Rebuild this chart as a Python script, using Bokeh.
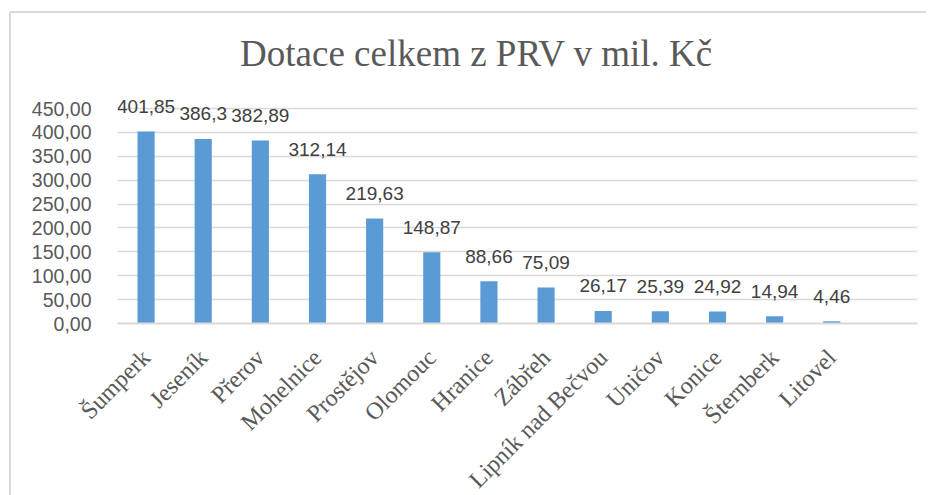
from bokeh.plotting import figure
from bokeh.models import ColumnDataSource, FactorRange, FixedTicker
from bokeh.core.properties import value
from bokeh.embed import file_html
from bokeh.resources import INLINE
import math

# ---- data ----
towns = ["Šumperk", "Jeseník", "Přerov", "Mohelnice", "Prostějov", "Olomouc",
         "Hranice", "Zábřeh", "Lipník nad Bečvou", "Uničov", "Konice",
         "Šternberk", "Litovel"]
subsidies = [401.85, 386.3, 382.89, 312.14, 219.63, 148.87, 88.66, 75.09,
             26.17, 25.39, 24.92, 14.94, 4.46]
extra_slot = [" "]  # empty category at end of axis, as in the reference
y_ticks = [0, 50, 100, 150, 200, 250, 300, 350, 400, 450]
title_text = "Dotace celkem z PRV v mil. Kč"

labels = [str(v).replace(".", ",") for v in subsidies]
src = ColumnDataSource(dict(town=towns, val=subsidies, lab=labels))

FRAME_H = 310          # frame reaches to top of canvas so nothing is clipped
PLOT_H = 215           # height occupied by 0..450
y_end = y_ticks[-1] * FRAME_H / PLOT_H

p = figure(x_range=FactorRange(factors=towns + extra_slot, range_padding=0),
           y_range=(0, y_end),
           frame_width=800, frame_height=FRAME_H,
           min_border_left=106, min_border_right=9,
           min_border_top=0, min_border_bottom=168,
           output_backend="svg", toolbar_location=None, tools="")
p.title.visible = False

p.styles = {"margin-left": "9px", "margin-top": "11px",
            "border-left": "2px solid #d9d9d9", "border-top": "2px solid #d9d9d9"}

p.vbar(x="town", top="val", width=0.3, source=src,
       fill_color="#5B9BD5", line_color=None)

p.text(x="town", y="val", text="lab", source=src,
       text_font=value("Liberation Sans"), text_font_size="19px",
       text_color="#404040", text_align="center", text_baseline="alphabetic",
       y_offset=-25)

# chart title, anchored to the top-left of the plotting frame
p.text(x=[towns[0]], y=[y_end], text=[title_text],
       text_font=value("Liberation Serif"), text_font_size="37px",
       text_color="#595959", text_align="left", text_baseline="alphabetic",
       x_offset=94, y_offset=40)

p.outline_line_color = None
p.background_fill_color = "white"
p.border_fill_color = "white"

p.xgrid.grid_line_color = None
p.ygrid.ticker = FixedTicker(ticks=y_ticks)
p.ygrid.grid_line_color = "#d9d9d9"
p.ygrid.grid_line_width = 1.5

p.yaxis.ticker = FixedTicker(ticks=y_ticks)
p.yaxis.major_label_overrides = {v: f"{v:.2f}".replace(".", ",") for v in y_ticks}
p.yaxis.axis_line_color = None
p.yaxis.major_tick_line_color = None
p.yaxis.minor_tick_line_color = None
p.yaxis.major_label_standoff = 20
p.yaxis.major_label_text_font = "Liberation Sans"
p.yaxis.major_label_text_font_size = "19.5px"
p.yaxis.major_label_text_color = "#595959"

p.xaxis.axis_line_color = "#d9d9d9"
p.xaxis.axis_line_width = 2
p.xaxis.major_tick_line_color = None
p.xaxis.minor_tick_line_color = None
p.xaxis.major_label_orientation = math.pi / 4
p.xaxis.major_label_standoff = 24
p.xaxis.major_label_text_font = "Liberation Serif"
p.xaxis.major_label_text_font_size = "24px"
p.xaxis.major_label_text_color = "#595959"

open("out.html", "w").write(file_html(p, INLINE))
